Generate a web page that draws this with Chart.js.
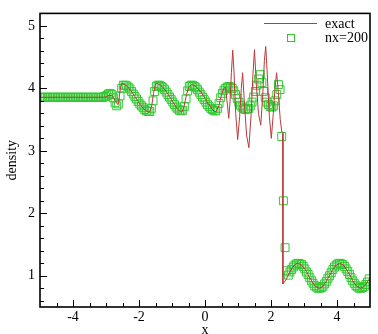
<!DOCTYPE html>
<html><head><meta charset="utf-8">
<script src="https://cdn.jsdelivr.net/npm/chart.js@4/dist/chart.umd.min.js"></script>
<style>html,body{margin:0;padding:0;background:#fff}</style>
</head><body>
<canvas id="c" width="378" height="334"></canvas>
<script>
// ---- data ----
const exactX = [-5,-3.1,-3.0,-2.9,-2.8,-2.72,-2.64,-2.61,-2.57,-2.53,
 -2.45,-2.35,-2.25,-2.15,-2.05,-1.95,-1.85,-1.75,-1.68,-1.62,-1.56,-1.50,-1.45,
 -1.35,-1.25,-1.15,-1.05,-0.95,-0.85,-0.76,-0.70,-0.64,-0.56,-0.48,-0.40,
 -0.30,-0.20,-0.10,0.00,0.10,0.20,0.28,0.34,0.42,0.50,0.57,0.62,
 0.67,0.72,0.76,0.80,0.84,0.88,0.93,0.99,1.05,1.10,1.14,1.19,1.26,1.33,1.40,1.45,1.50,1.55,1.62,1.69,1.75,1.80,1.84,1.88,1.95,2.01,2.07,2.12,2.17,2.22,2.28,2.33,2.36,2.36,
 2.45,2.55,2.65,2.75,2.83,2.95,3.05,3.15,3.25,3.35,3.46,3.55,3.65,3.75,3.85,3.95,4.08,4.20,4.30,4.40,4.50,4.60,4.71,4.80,4.90,5.00];
const exactY = [3.857,3.857,3.86,3.89,3.88,3.80,3.74,3.80,3.98,4.08,
 4.07,4.03,3.97,3.89,3.81,3.73,3.67,3.63,3.62,3.70,3.92,4.07,4.08,
 4.05,4.00,3.93,3.85,3.76,3.68,3.63,3.62,3.70,3.90,4.03,4.06,
 4.04,3.99,3.92,3.84,3.75,3.68,3.63,3.63,3.72,3.90,4.00,4.02,
 3.78,3.52,3.80,4.25,4.61,4.25,3.60,3.18,3.55,4.00,4.25,3.80,3.25,3.05,3.60,4.20,4.62,4.10,3.60,3.41,3.90,4.45,4.67,4.30,3.55,3.20,3.60,4.00,4.25,3.95,3.50,3.30,3.28,0.87,
 0.93,1.04,1.13,1.19,1.20,1.16,1.09,0.99,0.90,0.83,0.80,0.82,0.89,0.98,1.08,1.16,1.20,1.17,1.09,1.00,0.90,0.83,0.80,0.82,0.88,0.97];

// nx=200 cell-centred solution (cell centres from x0 and dx)
const numX0 = -4.975, numDx = 0.05;
const numY = [
 3.857,3.857,3.857,3.857,3.857,3.857,3.857,3.857,3.857,3.857,
 3.857,3.857,3.857,3.857,3.857,3.857,3.857,3.857,3.857,3.857,
 3.857,3.857,3.857,3.857,3.857,3.857,3.857,3.857,3.857,3.857,
 3.857,3.857,3.857,3.857,3.857,3.857,3.857,3.857,3.86,3.87,
 3.89,3.91,3.92,3.90,3.85,3.77,3.72,3.75,3.88,4.00,
 4.05,4.05,4.04,4.02,3.99,3.95,3.91,3.87,3.83,3.79,
 3.75,3.72,3.69,3.66,3.64,3.63,3.63,3.68,3.80,3.95,
 4.03,4.05,4.05,4.03,4.01,3.98,3.94,3.90,3.86,3.82,
 3.78,3.74,3.70,3.67,3.65,3.64,3.65,3.71,3.83,3.96,
 4.03,4.05,4.05,4.03,4.01,3.98,3.94,3.90,3.86,3.82,
 3.78,3.74,3.71,3.68,3.66,3.64,3.64,3.68,3.76,3.85,
 3.92,3.97,4.00,4.02,4.03,4.02,4.00,3.96,3.90,3.84,
 3.78,3.73,3.70,3.68,3.66,3.67,3.68,3.72,3.78,3.86,
 3.95,4.05,4.15,4.22,4.09,3.95,3.85,3.78,3.74,3.71,
 3.70,3.72,3.80,3.90,4.06,3.98,3.23,2.20,1.45,1.08,
 1.01,1.06,1.10,1.14,1.17,1.19,1.20,1.19,1.18,1.15,
 1.11,1.06,1.02,0.97,0.92,0.88,0.84,0.82,0.80,0.80,
 0.81,0.83,0.87,0.91,0.96,1.00,1.05,1.10,1.14,1.17,
 1.19,1.20,1.19,1.18,1.15,1.11,1.07,1.02,0.97,0.92,
 0.88,0.84,0.82,0.80,0.80,0.81,0.83,0.86,0.90,0.95];

const xTicks = [-4,-2,0,2,4];
const xMinor = [-4.5,-3.5,-3,-2.5,-1.5,-1,-0.5,0.5,1,1.5,2.5,3,3.5,4.5];
const yTicks = [1,2,3,4,5];
const yMinor = [0.6,0.8,1.2,1.4,1.6,1.8,2.2,2.4,2.6,2.8,3.2,3.4,3.6,3.8,4.2,4.4,4.6,4.8,5.2];

const seriesLabels = ['exact','nx=200'];
const lineColor = '#b83a3a';
const boxColor = '#33c833';
const FONT = 'Liberation Serif';

const exactPts = exactX.map((x,i)=>({x:x, y:exactY[i]}));
const numPts = numY.map((y,i)=>({x:+(numX0+numDx*i).toFixed(3), y:y}));

const frameTicks = {
  id:'frameTicks',
  afterDatasetsDraw(chart){
    const ctx = chart.ctx, a = chart.chartArea;
    const xs = chart.scales.x, ys = chart.scales.y;
    ctx.save();
    ctx.strokeStyle = '#000';
    ctx.lineWidth = 1;
    ctx.beginPath();
    xTicks.forEach(v=>{const p=Math.round(xs.getPixelForValue(v))+0.5; ctx.moveTo(p,a.bottom); ctx.lineTo(p,a.bottom-7);});
    xMinor.forEach(v=>{const p=Math.round(xs.getPixelForValue(v))+0.5; ctx.moveTo(p,a.bottom); ctx.lineTo(p,a.bottom-4);});
    yTicks.forEach(v=>{const p=Math.round(ys.getPixelForValue(v))+0.5; ctx.moveTo(a.left,p); ctx.lineTo(a.left+7,p);});
    yMinor.forEach(v=>{const p=Math.round(ys.getPixelForValue(v))+0.5; ctx.moveTo(a.left,p); ctx.lineTo(a.left+4,p);});
    ctx.stroke();
    ctx.lineWidth = 1.6;
    ctx.strokeRect(a.left, a.top, a.right-a.left, a.bottom-a.top);
    // legend
    ctx.font = '14px "' + FONT + '"';
    ctx.fillStyle = '#000';
    ctx.textBaseline = 'middle';
    ctx.textAlign = 'left';
    ctx.strokeStyle = lineColor; ctx.lineWidth = 1.2;
    ctx.beginPath(); ctx.moveTo(264, 23.5); ctx.lineTo(317, 23.5); ctx.stroke();
    ctx.fillText(chart.data.datasets[0].label, 325, 24);
    ctx.strokeStyle = boxColor; ctx.lineWidth = 1;
    ctx.strokeRect(287.5, 34.5, 7, 7);
    ctx.fillText(chart.data.datasets[1].label, 325, 38.5);
    ctx.restore();
  }
};

new Chart(document.getElementById('c'), {
  type:'scatter',
  data:{datasets:[
    {label:seriesLabels[0], data:exactPts, showLine:true, borderColor:lineColor, borderWidth:1, pointRadius:0, tension:0, fill:false},
    {label:seriesLabels[1], data:numPts, showLine:false, pointStyle:'rect', pointRadius:5.6, borderColor:boxColor, backgroundColor:'rgba(0,0,0,0)', borderWidth:1}
  ]},
  options:{
    responsive:false, animation:false, devicePixelRatio:1,
    layout:{padding:{top:7,right:8,left:0,bottom:0}},
    plugins:{legend:{display:false}, tooltip:{enabled:false}},
    scales:{
      x:{type:'linear', min:-5, max:5,
        afterBuildTicks:s=>{s.ticks = xTicks.map(v=>({value:v}));},
        ticks:{font:{family:FONT,size:14}, color:'#000', padding:2, maxRotation:0, autoSkip:false},
        grid:{display:false, drawTicks:false}, border:{display:false},
        title:{display:true, text:'x', font:{family:FONT,size:14,lineHeight:1}, color:'#000', padding:{top:0,bottom:-3}},
        afterFit:s=>{s.height = 27;}},
      y:{type:'linear', min:0.5, max:5.2,
        afterBuildTicks:s=>{s.ticks = yTicks.map(v=>({value:v}));},
        ticks:{font:{family:FONT,size:14}, color:'#000', padding:5, autoSkip:false},
        grid:{display:false, drawTicks:false}, border:{display:false},
        title:{display:true, text:'density', font:{family:FONT,size:14}, color:'#000', padding:{top:4,bottom:0}},
        afterFit:s=>{s.width = 40;}}
    }
  },
  plugins:[frameTicks]
});
</script>
</body></html>
